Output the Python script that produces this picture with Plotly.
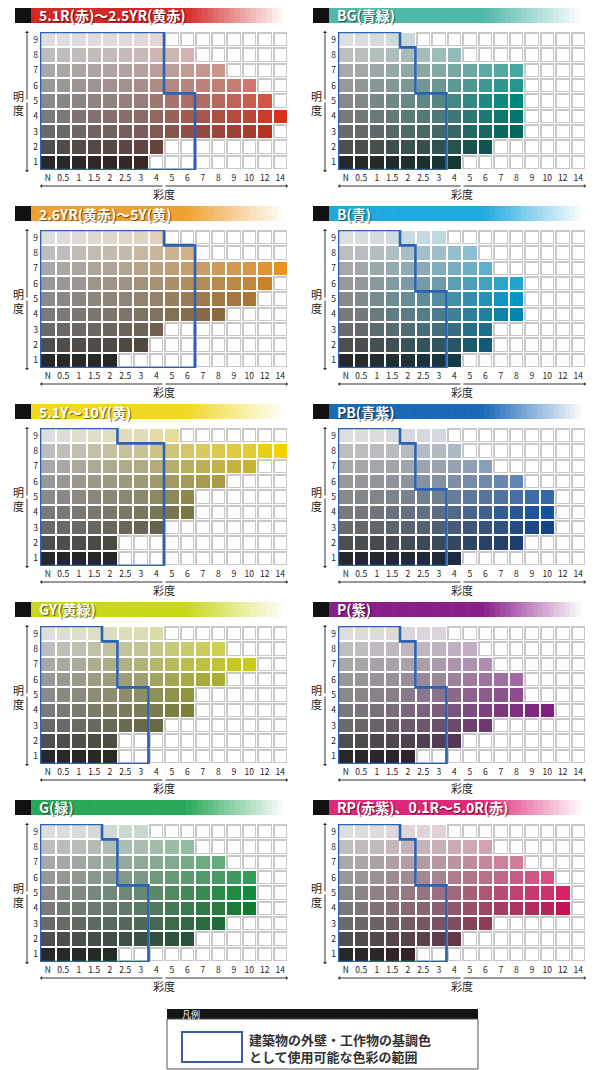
import plotly.graph_objects as go

W, H = 594, 1070

# ---------------- data ----------------
chroma_labels = ["N", "0.5", "1", "1.5", "2", "2.5", "3", "4", "5", "6", "7", "8", "9", "10", "12", "14"]
chroma_values = [0, 0.5, 1, 1.5, 2, 2.5, 3, 4, 5, 6, 7, 8, 9, 10, 12, 14]
value_levels = [1, 2, 3, 4, 5, 6, 7, 8, 9]

panel_titles = ["5.1R(赤)～2.5YR(黄赤)", "BG(青緑)", "2.6YR(黄赤)～5Y(黄)", "B(青)",
                "5.1Y～10Y(黄)", "PB(青紫)", "GY(黄緑)", "P(紫)", "G(緑)", "RP(赤紫)、0.1R～5.0R(赤)"]

# highest chroma shown for each value 1..9
max_chroma_R_YR = [3, 4, 12, 14, 12, 10, 8, 6, 4]
max_chroma_BG = [4, 6, 8, 8, 8, 8, 8, 4, 2]
max_chroma_YR_Y = [2, 3, 4, 8, 10, 12, 14, 6, 4]
max_chroma_B = [4, 6, 6, 8, 8, 8, 6, 5, 3]
max_chroma_Y = [2, 2, 4, 6, 6, 8, 10, 14, 5]
max_chroma_PB = [4, 8, 10, 10, 10, 8, 6, 4, 3]
max_chroma_GY = [2, 2, 4, 6, 6, 8, 10, 8, 4]
max_chroma_P = [2, 4, 6, 10, 8, 8, 6, 5, 3]
max_chroma_G = [2, 6, 8, 10, 10, 10, 8, 6, 3]
max_chroma_RP = [2, 4, 6, 12, 12, 10, 8, 6, 3]

# permitted chroma limit (blue outline) for each value 1..9
limit_R_YR = [6, 6, 6, 6, 6, 4, 4, 4, 4]
limit_BG = [3, 3, 3, 3, 3, 2, 2, 2, 1.5]
limit_YR_Y = [6, 6, 6, 6, 6, 6, 6, 6, 4]
limit_B = [3, 3, 3, 3, 3, 2, 2, 2, 1.5]
limit_Y = [4, 4, 4, 4, 4, 4, 4, 4, 2]
limit_PB = [3, 3, 3, 3, 3, 2, 2, 2, 1.5]
limit_GY = [3, 3, 3, 3, 3, 2, 2, 2, 1.5]
limit_P = [3, 3, 3, 3, 3, 2, 2, 2, 1.5]
limit_G = [3, 3, 3, 3, 3, 2, 2, 2, 1.5]
limit_RP = [3, 3, 3, 3, 3, 2, 2, 2, 1.5]

max_chroma_all = [max_chroma_R_YR, max_chroma_BG, max_chroma_YR_Y, max_chroma_B, max_chroma_Y,
                  max_chroma_PB, max_chroma_GY, max_chroma_P, max_chroma_G, max_chroma_RP]
limit_all = [limit_R_YR, limit_BG, limit_YR_Y, limit_B, limit_Y,
             limit_PB, limit_GY, limit_P, limit_G, limit_RP]

legend_title = "凡例"
legend_lines = ["建築物の外壁・工作物の基調色", "として使用可能な色彩の範囲"]

# ---------------- styles ----------------
# colour of the most vivid cell of each hue page
hue_rgb = [(215, 50, 28), (0, 135, 125), (235, 145, 30), (0, 150, 200), (240, 210, 0),
           (20, 80, 160), (200, 205, 20), (128, 30, 130), (20, 140, 60), (210, 20, 90)]
header_rgb = [(212, 40, 40), (80, 184, 168), (240, 160, 48), (32, 168, 224), (240, 216, 32),
              (26, 104, 184), (200, 216, 24), (138, 30, 138), (40, 168, 88), (224, 40, 122)]
gray_by_value = [40, 78, 106, 122, 137, 152, 168, 190, 222]
FONT = "Noto Sans CJK JP"
BLUE = "#2b62b3"
COL_X0 = [40, 338]      # left edge of grid, per panel column
GRID_W = 248
HEAD_X0 = [15, 313]


def px(x):
    return x / W


def py(y):
    return 1 - y / H


def cell_color(hue, v, c, v_peak, c_peak):
    g = gray_by_value[v - 1]
    d = v - v_peak
    if d >= 0:
        f = min(0.9, 0.14 * d)
        hv = [h + (255 - h) * f for h in hue]
    else:
        f = min(0.9, 0.12 * (-d))
        hv = [h * (1 - f) for h in hue]
    t = min(1.0, c / c_peak)
    rgb = [int(min(255, max(0, g + (h - g) * t))) for h in hv]
    return "rgb(%d,%d,%d)" % tuple(rgb)


def note(x, y, text, size, color, xanchor="center", yanchor="middle", **kw):
    return dict(x=px(x), y=py(y), xref="paper", yref="paper", text=text, showarrow=False,
                xanchor=xanchor, yanchor=yanchor, font=dict(size=size, color=color, family=FONT, **kw))


fig = go.Figure()
shapes = []
annotations = []
layout_axes = {}

for i in range(10):
    r, col = divmod(i, 2)
    gx0 = COL_X0[col]
    gx1 = gx0 + GRID_W
    gy0, gy1 = 32 + 198 * r, 170 + 198 * r
    xs = "x" if i == 0 else "x%d" % (i + 1)
    ys = "y" if i == 0 else "y%d" % (i + 1)
    xk = "xaxis" if i == 0 else "xaxis%d" % (i + 1)
    yk = "yaxis" if i == 0 else "yaxis%d" % (i + 1)

    maxc = max_chroma_all[i]
    lim = limit_all[i]
    cols = list(range(len(chroma_labels)))
    c_peak = max(maxc)
    peak_vals = [value_levels[k] for k in range(len(maxc)) if maxc[k] == c_peak]
    v_peak = sum(peak_vals) / len(peak_vals)

    colored_z, empty_z, colorscale = [], [], []
    cell_cols = []
    for vi, v in enumerate(value_levels):
        rowc, rowe = [], []
        for ci, c in enumerate(chroma_values):
            if c <= maxc[vi]:
                rowc.append(len(cell_cols) + 0.5)
                cell_cols.append(cell_color(hue_rgb[i], v, c, v_peak, c_peak))
                rowe.append(None)
            else:
                rowc.append(None)
                rowe.append(1)
        colored_z.append(rowc)
        empty_z.append(rowe)
    n = len(cell_cols)
    for k, cc in enumerate(cell_cols):
        colorscale.append([k / n, cc])
        colorscale.append([(k + 1) / n, cc])

    # empty cells: gray outline + white inner
    fig.add_trace(go.Heatmap(x=cols, y=value_levels, z=empty_z, xgap=1, ygap=1,
                             colorscale=[[0, "#c8c8c8"], [1, "#c8c8c8"]], showscale=False,
                             hoverinfo="skip", xaxis=xs, yaxis=ys))
    fig.add_trace(go.Heatmap(x=cols, y=value_levels, z=empty_z, xgap=4, ygap=4,
                             colorscale=[[0, "#ffffff"], [1, "#ffffff"]], showscale=False,
                             hoverinfo="skip", xaxis=xs, yaxis=ys))
    fig.add_trace(go.Heatmap(x=cols, y=value_levels, z=colored_z, xgap=2, ygap=2,
                             colorscale=colorscale, zmin=0, zmax=n, showscale=False,
                             hoverinfo="skip", xaxis=xs, yaxis=ys))

    # permitted range outline
    bx, by = [-0.5, -0.5], [0.5, 9.5]
    for vi in range(len(value_levels) - 1, -1, -1):
        v = value_levels[vi]
        edge = chroma_values.index(lim[vi]) + 0.5
        bx += [edge, edge]
        by += [v + 0.5, v - 0.5]
    bx.append(-0.5)
    by.append(0.5)
    fig.add_trace(go.Scatter(x=bx, y=by, mode="lines", line=dict(color=BLUE, width=2.6),
                             hoverinfo="skip", showlegend=False, xaxis=xs, yaxis=ys))

    layout_axes[xk] = dict(domain=[px(gx0), px(gx1)], range=[-0.5, 15.5], anchor=ys,
                           tickvals=cols, ticktext=chroma_labels, showgrid=False, zeroline=False,
                           ticks="", tickfont=dict(size=8.5, color="#222", family=FONT),
                           fixedrange=True, showline=False, ticklabelstandoff=1)
    layout_axes[yk] = dict(domain=[py(gy1), py(gy0)], range=[0.5, 9.5], anchor=xs,
                           tickvals=value_levels, ticktext=[str(v) for v in value_levels],
                           showgrid=False, zeroline=False, ticks="",
                           tickfont=dict(size=8.5, color="#222", family=FONT),
                           fixedrange=True, showline=False, ticklabelstandoff=1)

    # header: black square + gradient bar
    hx0 = HEAD_X0[col]
    hy0, hy1 = 8 + 198 * r, 23 + 198 * r
    shapes.append(dict(type="rect", xref="paper", yref="paper", x0=px(hx0), x1=px(hx0 + 16),
                       y0=py(hy1), y1=py(hy0), fillcolor="#111", line=dict(width=0)))
    bar0, bar1 = hx0 + 16, gx1
    nsl = 48
    hc = header_rgb[i]
    for s in range(nsl):
        t = s / (nsl - 1)
        f = 0.0 if t < 0.6 else (t - 0.6) / 0.4
        cr = [int(hc[j] + (255 - hc[j]) * f) for j in range(3)]
        sx0 = bar0 + (bar1 - bar0) * s / nsl
        sx1 = bar0 + (bar1 - bar0) * (s + 1) / nsl
        shapes.append(dict(type="rect", xref="paper", yref="paper", x0=px(sx0), x1=px(sx1 + 0.6),
                           y0=py(hy1), y1=py(hy0), fillcolor="rgb(%d,%d,%d)" % tuple(cr),
                           line=dict(width=0)))
    annotations.append(note(hx0 + 22, (hy0 + hy1) / 2, "<b>%s</b>" % panel_titles[i], 14, "white",
                            xanchor="left", shadow="1px 1px 1px rgba(0,0,0,0.6)"))

    # axis titles
    annotations.append(note(gx0 - 22, (gy0 + gy1) / 2 + 2, "明<br>度", 11, "#222"))
    annotations.append(note((gx0 + gx1) / 2, 194 + 198 * r, "彩度", 11, "#222"))

    # axis arrows (double headed)
    ax_x = gx0 - 13
    ymid = (gy0 + gy1) / 2
    for yend in (gy0 - 1, gy1 + 2):
        annotations.append(dict(x=px(ax_x), y=py(yend), xref="paper", yref="paper", text="",
                                showarrow=True, ax=0, ay=(ymid - yend), arrowhead=1,
                                arrowsize=0.7, arrowwidth=1, arrowcolor="#333"))
    ax_y = 186 + 198 * r
    xmid = (gx0 + gx1) / 2
    for xend in (gx0, gx1):
        annotations.append(dict(x=px(xend), y=py(ax_y), xref="paper", yref="paper", text="",
                                showarrow=True, ax=(xmid - xend), ay=0, arrowhead=1,
                                arrowsize=0.7, arrowwidth=1, arrowcolor="#333"))

# ---------------- legend box ----------------
shapes.append(dict(type="rect", xref="paper", yref="paper", x0=px(167), x1=px(478), y0=py(1019), y1=py(1009),
                   fillcolor="#151515", line=dict(width=0)))
shapes.append(dict(type="rect", xref="paper", yref="paper", x0=px(167), x1=px(478), y0=py(1069), y1=py(1019),
                   fillcolor="white", line=dict(width=1, color="#555")))
shapes.append(dict(type="rect", xref="paper", yref="paper", x0=px(182), x1=px(242), y0=py(1062), y1=py(1032),
                   fillcolor="white", line=dict(width=2, color="#3a5cab")))
annotations.append(note(180, 1014, legend_title, 9, "white", xanchor="left"))
annotations.append(dict(x=px(247), y=py(1048), xref="paper", yref="paper", showarrow=False,
                        text="<b>%s<br>%s</b>" % tuple(legend_lines), xanchor="left", yanchor="middle",
                        align="left", font=dict(size=13, color="#333", family=FONT)))

fig.update_layout(width=W, height=H, margin=dict(l=0, r=0, t=0, b=0), paper_bgcolor="white",
                  plot_bgcolor="white", showlegend=False, shapes=shapes, annotations=annotations,
                  font=dict(family=FONT), **layout_axes)

# remove the default page margin so the figure fills the 594x1070 window exactly
fig.write_html("out.html", config={"displayModeBar": False},
               post_script="document.body.style.margin='0';document.body.style.overflow='hidden';")
